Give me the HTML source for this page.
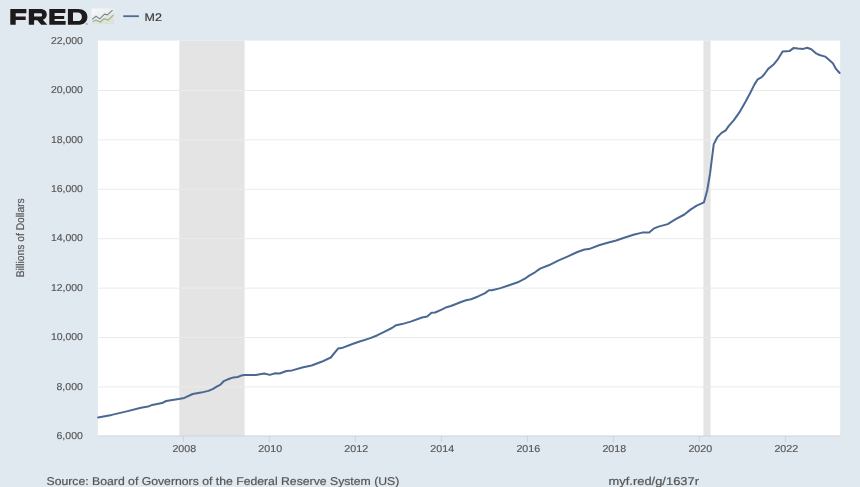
<!DOCTYPE html>
<html><head><meta charset="utf-8"><style>
html,body{margin:0;padding:0;background:#e1e9f0;width:860px;height:487px;overflow:hidden}
svg{display:block;font-family:"Liberation Sans",sans-serif;will-change:transform;text-rendering:geometricPrecision}
</style></head><body>
<svg width="860" height="487" viewBox="0 0 860 487">
<rect width="860" height="487" fill="#e1e9f0"/>
<!-- FRED logo -->
<g fill="#1e1a1b" fill-rule="evenodd">
<path d="M10.3 9 H26.4 V13.2 H15.7 V16.6 H25.7 V20.0 H15.7 V24.8 H10.3 Z"/>
<path d="M28.8 9 H40.2 C44.6 9 46.8 11.2 46.8 14.6 C46.8 17.3 45.3 19.1 42.9 19.8 L47.3 24.8 H41.2 L37.4 20.3 H34.1 V24.8 H28.8 Z M34.1 13.3 H40.5 C41.6 13.3 42.1 14 42.1 14.9 C42.1 15.8 41.6 16.5 40.5 16.5 H34.1 Z"/>
<path d="M49.3 9 H65.4 V13.0 H54.6 V16.1 H64.2 V19.1 H54.6 V21.0 H65.6 V24.8 H49.3 Z"/>
<path d="M67.9 9 H77.8 C83.9 9 87.4 12.2 87.4 16.9 C87.4 21.6 83.9 24.8 77.8 24.8 H67.9 Z M73.0 12.6 H77.3 C80.4 12.6 81.9 14.4 81.9 16.9 C81.9 19.4 80.4 21.1 77.3 21.1 H73.0 Z"/>
</g>
<circle cx="86.8" cy="24" r="0.9" fill="#777" fill-opacity="0.6"/>
<!-- icon -->
<defs><linearGradient id="ig" x1="0" y1="0" x2="0.6" y2="1"><stop offset="0" stop-color="#f7f9fa"/><stop offset="0.5" stop-color="#eef0f0"/><stop offset="1" stop-color="#d5d9d6"/></linearGradient></defs>
<rect x="91.5" y="8.5" width="22.2" height="15.4" fill="url(#ig)"/>
<polygon points="92.5,21.5 96,20.1 100.3,22 104.1,18.7 108.3,20.1 113.5,14.9 113.5,23.5 92.5,23.5" fill="#dfe5d6"/>
<polyline points="92.3,19.2 96,16.3 99.8,18.9 104.5,14.2 107.4,14.9 112.6,10.2" fill="none" stroke="#7a848e" stroke-width="1.1"/>
<polyline points="92.5,21.5 96,20.1 100.3,22 104.1,18.7 108.3,20.1 113.5,14.9" fill="none" stroke="#9cb08c" stroke-width="1.2"/>
<!-- legend -->
<line x1="123.2" x2="138.9" y1="16.2" y2="16.2" stroke="#4d6b96" stroke-width="1.8"/>
<text x="144.6" y="20.5" font-size="11" fill="#3c3c3c" stroke="#3c3c3c" stroke-width="0.2" textLength="17.3" lengthAdjust="spacingAndGlyphs">M2</text>
<!-- plot -->
<rect x="97.9" y="40.6" width="742.2" height="395.4" fill="#ffffff"/>
<rect x="179.3" y="40.6" width="65.3" height="395.4" fill="#e4e4e4"/>
<rect x="703.4" y="40.6" width="7.2" height="395.4" fill="#e4e4e4"/>
<g stroke="#ebebeb" stroke-width="1"><line x1="98" x2="840" y1="90.47" y2="90.47" /><line x1="98" x2="840" y1="139.88" y2="139.88" /><line x1="98" x2="840" y1="189.28" y2="189.28" /><line x1="98" x2="840" y1="238.69" y2="238.69" /><line x1="98" x2="840" y1="288.10" y2="288.10" /><line x1="98" x2="840" y1="337.50" y2="337.50" /><line x1="98" x2="840" y1="386.91" y2="386.91" /></g>
<line x1="97.9" x2="840.1" y1="436" y2="436" stroke="#cbd3dc" stroke-width="1.2"/>
<g stroke="#cbd3dc" stroke-width="1"><line x1="183.4" x2="183.4" y1="436" y2="442" /><line x1="269.3" x2="269.3" y1="436" y2="442" /><line x1="355.3" x2="355.3" y1="436" y2="442" /><line x1="441.3" x2="441.3" y1="436" y2="442" /><line x1="527.4" x2="527.4" y1="436" y2="442" /><line x1="613.4" x2="613.4" y1="436" y2="442" /><line x1="699.35" x2="699.35" y1="436" y2="442" /><line x1="785.4" x2="785.4" y1="436" y2="442" /></g>
<path d="M98.1 417.4 L111.7 414.9 L125.7 411.6 L141.0 407.7 L148.0 406.6 L152.2 404.9 L162.0 403.1 L166.2 401.0 L178.7 399.0 L184.3 397.9 L192.7 394.0 L201.0 392.6 L208.4 390.9 L212.6 389.1 L216.7 386.7 L220.2 384.9 L223.7 381.2 L227.9 379.3 L233.5 377.4 L237.7 377.0 L241.2 375.6 L244.7 374.9 L255.8 374.9 L264.2 373.5 L269.8 374.9 L275.3 373.2 L279.5 373.5 L286.5 371.0 L292.1 370.4 L303.3 367.2 L311.6 365.5 L321.5 361.8 L330.8 357.5 L338.0 348.6 L341.6 348.1 L353.1 343.8 L358.9 341.7 L370.4 338.1 L377.5 335.2 L384.7 331.6 L391.9 328.0 L396.2 325.2 L402.0 324.1 L410.6 321.6 L422.1 317.5 L427.2 316.4 L431.5 312.8 L435.1 312.5 L441.6 309.6 L446.6 307.2 L450.9 306.0 L461.7 301.7 L466.0 300.3 L471.0 299.2 L477.5 296.7 L484.7 293.4 L489.0 290.2 L491.9 290.2 L500.5 288.1 L509.1 285.2 L517.7 282.3 L524.9 278.7 L529.2 275.6 L535.0 272.3 L540.1 268.6 L548.7 265.3 L558.7 260.3 L567.4 256.7 L577.4 252.0 L584.6 249.5 L588.9 249.1 L599.0 245.2 L607.6 242.8 L616.2 240.5 L623.4 238.0 L633.5 234.7 L642.1 232.6 L644.9 232.4 L649.2 232.4 L653.6 228.7 L658.5 226.6 L667.7 224.1 L675.7 219.2 L684.4 214.5 L690.5 209.6 L696.7 205.6 L703.9 202.4 L707.2 190.4 L710.1 173.2 L713.7 144.4 L717.3 137.2 L721.6 132.9 L725.7 130.4 L728.6 126.1 L733.7 120.3 L739.4 112.4 L745.2 102.3 L750.2 93.0 L754.5 84.4 L757.7 79.3 L761.7 77.2 L764.1 74.5 L768.2 68.9 L773.3 64.8 L778.0 59.1 L782.6 51.6 L789.8 50.9 L793.4 48.1 L798.0 48.6 L803.1 48.9 L807.2 47.8 L811.3 49.2 L816.5 53.7 L819.5 55.0 L825.2 56.6 L832.9 63.2 L836.0 68.9 L839.6 73.0" fill="none" stroke="#4a6892" stroke-width="2" stroke-linejoin="round" stroke-linecap="round"/>
<g font-size="10" fill="#555" stroke="#555" stroke-width="0.15"><text x="50.9" y="43.7" textLength="32.0" lengthAdjust="spacingAndGlyphs">22,000</text><text x="50.9" y="93.1" textLength="32.0" lengthAdjust="spacingAndGlyphs">20,000</text><text x="50.9" y="142.5" textLength="32.0" lengthAdjust="spacingAndGlyphs">18,000</text><text x="50.9" y="191.9" textLength="32.0" lengthAdjust="spacingAndGlyphs">16,000</text><text x="50.9" y="241.3" textLength="32.0" lengthAdjust="spacingAndGlyphs">14,000</text><text x="50.9" y="290.7" textLength="32.0" lengthAdjust="spacingAndGlyphs">12,000</text><text x="50.9" y="340.1" textLength="32.0" lengthAdjust="spacingAndGlyphs">10,000</text><text x="56.5" y="389.5" textLength="26.4" lengthAdjust="spacingAndGlyphs">8,000</text><text x="56.5" y="438.9" textLength="26.4" lengthAdjust="spacingAndGlyphs">6,000</text></g>
<g font-size="10" fill="#555" stroke="#555" stroke-width="0.15"><text x="172.4" y="451.9" textLength="23.8" lengthAdjust="spacingAndGlyphs">2008</text><text x="258.3" y="451.9" textLength="23.8" lengthAdjust="spacingAndGlyphs">2010</text><text x="344.3" y="451.9" textLength="23.8" lengthAdjust="spacingAndGlyphs">2012</text><text x="430.3" y="451.9" textLength="23.8" lengthAdjust="spacingAndGlyphs">2014</text><text x="516.4" y="451.9" textLength="23.8" lengthAdjust="spacingAndGlyphs">2016</text><text x="602.4" y="451.9" textLength="23.8" lengthAdjust="spacingAndGlyphs">2018</text><text x="688.4" y="451.9" textLength="23.8" lengthAdjust="spacingAndGlyphs">2020</text><text x="774.4" y="451.9" textLength="23.8" lengthAdjust="spacingAndGlyphs">2022</text></g>
<text transform="translate(24.3 277.3) rotate(-90)" font-size="11.2" fill="#555" stroke="#555" stroke-width="0.15" textLength="79" lengthAdjust="spacingAndGlyphs">Billions of Dollars</text>
<text x="46.5" y="484.9" font-size="11.3" fill="#555" stroke="#555" stroke-width="0.2" textLength="352.8" lengthAdjust="spacingAndGlyphs">Source: Board of Governors of the Federal Reserve System (US)</text>
<text x="608.5" y="484.6" font-size="11.3" fill="#555" stroke="#555" stroke-width="0.2" textLength="90.5" lengthAdjust="spacingAndGlyphs">myf.red/g/1637r</text>
</svg>
</body></html>
